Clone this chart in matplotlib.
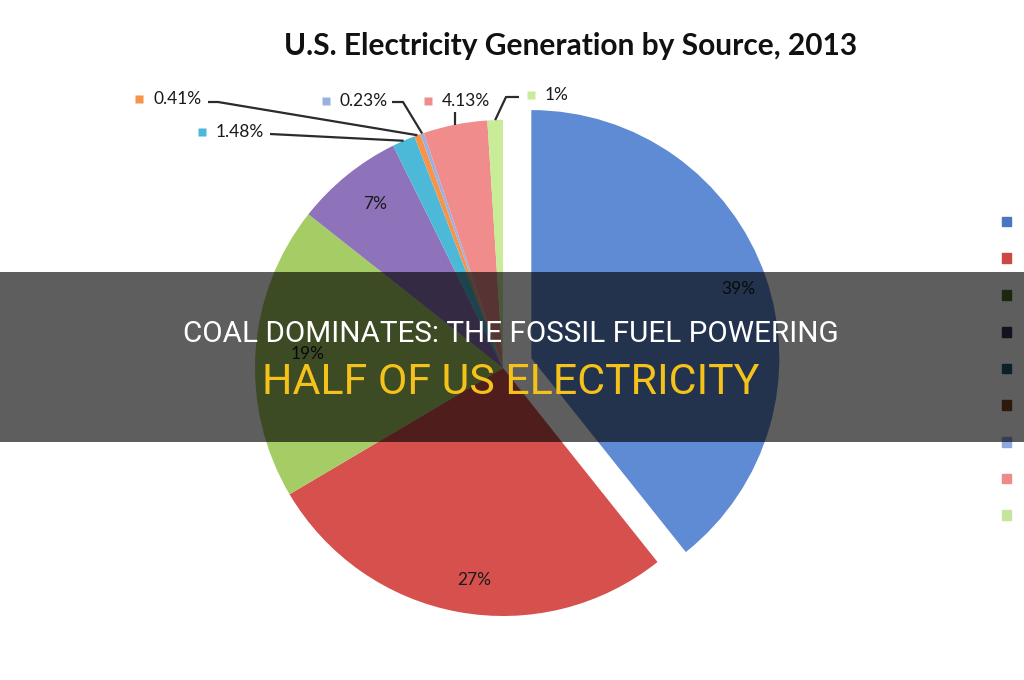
import numpy as np
import matplotlib.pyplot as plt
from matplotlib.patches import Rectangle

# Данные
sources = ['Coal', 'Natural Gas', 'Nuclear', 'Hydro', 'Biomass', 'Geothermal', 'Solar', 'Wind', 'Petroleum']
shares = [39, 27, 19, 7, 1.48, 0.41, 0.23, 4.13, 1]
share_labels = ['39%', '27%', '19%', '7%', '1.48%', '0.41%', '0.23%', '4.13%', '1%']
colors = ['#5f8bd4', '#d6504e', '#a6cc66', '#8e72ba', '#4cb9d8', '#f7944a', '#97b2e2', '#f08c8c', '#c8ec98']
legend_colors = ['#4a78c0', '#cc4844', '#4f6b2a', '#3a2f55', '#1f5a6a', '#7a4220', '#90a8e0', '#ee8a8a', '#c4e69a']

title = 'U.S. Electricity Generation by Source, 2013'
headline1 = 'COAL DOMINATES: THE FOSSIL FUEL POWERING'
headline2 = 'HALF OF US ELECTRICITY'

W, H = 1024, 680
fig = plt.figure(figsize=(W / 100, H / 100), dpi=100)
ax = fig.add_axes([0, 0, 1, 1])

cx, cy, R = 503, H - 368, 248
explode = [30 if i == 0 else 0 for i in range(len(shares))]
wedges, _ = ax.pie(shares, colors=colors, startangle=90, counterclock=False,
                   explode=explode, center=(cx, cy), radius=R,
                   wedgeprops=dict(linewidth=0))
ax.set_xlim(0, W)
ax.set_ylim(0, H)
ax.set_aspect('auto')
ax.axis('off')

lab_font = ['Lato', 'DejaVu Sans']


def edge_point(w, frac):
    a = np.deg2rad((w.theta1 + w.theta2) / 2)
    return w.center[0] + frac * R * np.cos(a), w.center[1] + frac * R * np.sin(a)


# подписи внутри крупных секторов
inside = {0: 0.84, 1: 0.87, 2: 0.83, 3: 0.85}
for i, fr in inside.items():
    x, y = edge_point(wedges[i], fr)
    ax.text(x - 7, y, share_labels[i], ha='left', va='center', fontsize=12.5,
            color='#1a1a1a', family=lab_font)
    ax.plot(x - 21, y, marker='s', ms=6, color=colors[i], mec='none')

# подписи мелких секторов с выносками (экранные координаты текста)
outside = {
    4: ((216, 132), [(270, 134)]),
    5: ((153, 99), [(208, 102), (218, 102)]),
    6: ((340, 101), [(392, 102), (403, 102)]),
    7: ((442, 101), [(456, 112)]),
    8: ((545, 95), [(519, 97), (506, 97)]),
}
for i, ((tx, ty), path) in outside.items():
    ax.text(tx, H - ty, share_labels[i], ha='left', va='center', fontsize=12.5,
            color='#1a1a1a', family=lab_font)
    ax.plot(tx - 14, H - ty, marker='s', ms=6, color=colors[i], mec='none')
    ex, ey = edge_point(wedges[i], 1.0)
    xs = [p[0] for p in path] + [ex]
    ys = [H - p[1] for p in path] + [ey]
    if i == 7:
        xs = [ex, ex]
        ys = [H - 112, ey]
    ax.plot(xs, ys, color='#2b2b2b', lw=1.6, solid_capstyle='butt')

ax.text(571, H - 46, title, ha='center', va='center', fontsize=21.5,
        fontweight='bold', family=lab_font, color='#111111')

# легенда (обрезана краем изображения, как на исходнике)
handles = [Rectangle((0, 0), 1, 1, color=c) for c in legend_colors]
ax.legend(handles, sources, loc='upper left', bbox_to_anchor=(1002 / W, 1 - 215 / H),
          frameon=False, fontsize=11, handlelength=0.6, handleheight=0.6,
          handletextpad=0.8, labelspacing=1.42, borderpad=0, borderaxespad=0)

# затемнённая полоса с заголовком
fig.add_artist(Rectangle((0, 1 - 442 / H), 1, 170 / H, transform=fig.transFigure,
                         facecolor='black', alpha=0.63, edgecolor='none', zorder=5))

head_font = ['Roboto', 'DejaVu Sans']
t1 = fig.text(511 / W, 1 - 334 / H, headline1, ha='center', va='center', fontsize=17,
              color='white', family=head_font, zorder=6)
t2 = fig.text(511 / W, 1 - 382 / H, headline2, ha='center', va='center', fontsize=27,
              color='#f5c21b', family=head_font, zorder=6)

# подгоняем ширину строк заголовка
fig.canvas.draw()
for t, target in ((t1, 657), (t2, 498)):
    w = t.get_window_extent().width
    t.set_fontsize(t.get_fontsize() * target / w)

plt.savefig('out.png', dpi=100)
